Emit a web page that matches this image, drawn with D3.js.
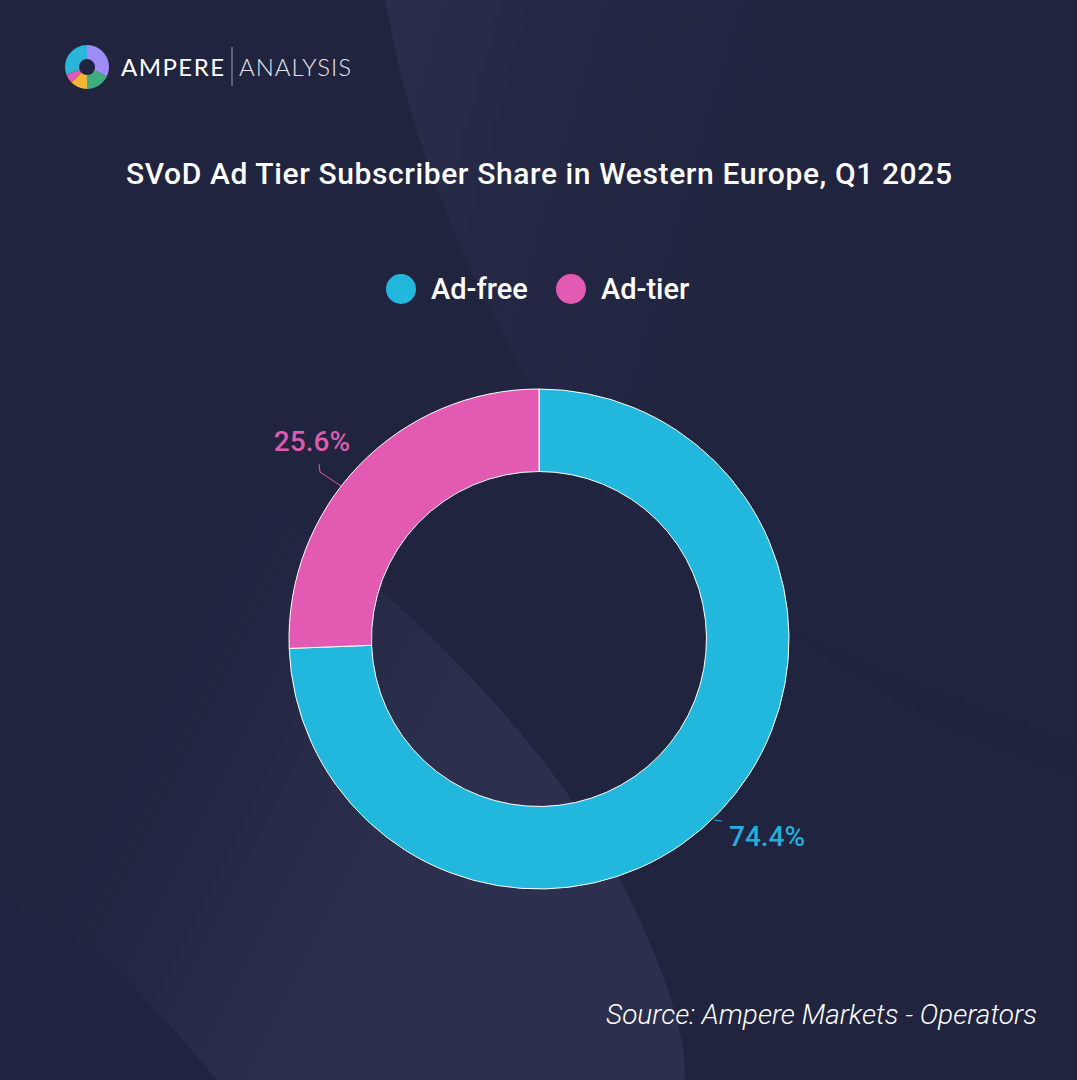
<!DOCTYPE html>
<html>
<head>
<meta charset="utf-8">
<script src="https://cdn.jsdelivr.net/npm/d3@7"></script>
<style>
  html, body { margin: 0; padding: 0; background: #1f2440; }
  svg { display: block; }
  text { font-family: Roboto, sans-serif; }
</style>
</head>
<body>
<div id="chart"></div>
<script>
// Chart values
const categories = ["Ad-free", "Ad-tier"];
const shares = [74.4, 25.6];
const shareLabels = ["74.4%", "25.6%"];
const colors = ["#22b8de", "#e35ab2"];
const labelColors = ["#23aedb", "#dd5cae"];

// Logo wheel, rough slice sizes
const logoSlices = [32, 18, 12.5, 7, 30.5];
const logoColors = ["#9d8cf5", "#3fae7f", "#f2b632", "#e35ab2", "#29b6d8"];

// Soft background curves (decoration only)
const topCurve = [[385, 0], [429, 167], [529, 383], [700, 570], [1077, 775]];
const bottomCurve = [[0, 440], [200, 482], [380, 590], [573, 802], [670, 997], [685, 1080]];
const cornerCurve = [[0, 899], [100, 955], [217, 1080]];
const streak = [[790, 632], [930, 690], [1077, 745], [1077, 778], [930, 720]];

const width = 1077;
const height = 1080;

const svg = d3.select("#chart")
    .append("svg")
    .attr("width", width)
    .attr("height", height);

const defs = svg.append("defs");

function addGradient(id, x1, y1, x2, y2, stops) {
    const g = defs.append("linearGradient")
        .attr("id", id)
        .attr("gradientUnits", "userSpaceOnUse")
        .attr("x1", x1).attr("y1", y1)
        .attr("x2", x2).attr("y2", y2);
    stops.forEach(s => {
        g.append("stop")
            .attr("offset", s[0])
            .attr("stop-color", s[1])
            .attr("stop-opacity", s[2]);
    });
}

addGradient("topFade", 385, 0, 800, 120, [[0, "#2c3150", 0.8], [0.45, "#2c3150", 0.28], [1, "#2c3150", 0]]);
addGradient("bottomFade", 80, 600, 440, 780, [[0, "#2c304e", 0], [0.4, "#2c304e", 0.12], [0.7, "#2c304e", 0.6], [1, "#2c304e", 1]]);
addGradient("cornerFade", 40, 900, 170, 1080, [[0, "#1f2340", 0.35], [1, "#1f2340", 0.95]]);

svg.append("rect")
    .attr("width", width)
    .attr("height", height)
    .attr("fill", "#20243f");

const curve = d3.line().curve(d3.curveNatural);

// Upper lighter sweep
svg.append("path")
    .attr("d", curve(topCurve) + `L${width},0Z`)
    .attr("fill", "url(#topFade)");

// Lower lighter sweep
svg.append("path")
    .attr("d", curve(bottomCurve) + `L0,${height}Z`)
    .attr("fill", "url(#bottomFade)");

// Dark corner bottom left
svg.append("path")
    .attr("d", curve(cornerCurve) + `L0,${height}Z`)
    .attr("fill", "url(#cornerFade)");

// Faint dark streak on the right
svg.append("path")
    .attr("d", d3.line()(streak) + "Z")
    .attr("fill", "#1d2139")
    .attr("opacity", 0.35);

// Logo
const logoPie = d3.pie().sort(null).value(d => d);
const logoArc = d3.arc().innerRadius(8).outerRadius(22);
const logo = svg.append("g").attr("transform", "translate(87,67)");
logo.selectAll("path")
    .data(logoPie(logoSlices))
    .enter()
    .append("path")
    .attr("d", logoArc)
    .attr("fill", (d, i) => logoColors[i]);

svg.append("text")
    .attr("x", 121)
    .attr("y", 75.5)
    .attr("font-size", 24)
    .style("font-family", "Lato, sans-serif")
    .attr("font-weight", 400)
    .attr("textLength", 103)
    .attr("fill", "#ffffff")
    .text("AMPERE");

svg.append("line")
    .attr("x1", 232).attr("x2", 232)
    .attr("y1", 47).attr("y2", 86)
    .attr("stroke", "#9a9dab")
    .attr("stroke-width", 1);

svg.append("text")
    .attr("x", 239)
    .attr("y", 75.5)
    .attr("font-size", 24)
    .style("font-family", "Lato, sans-serif")
    .attr("font-weight", 300)
    .attr("textLength", 112)
    .attr("fill", "#e4e5ea")
    .text("ANALYSIS");

// Title
svg.append("text")
    .attr("x", 539)
    .attr("y", 184)
    .attr("text-anchor", "middle")
    .attr("font-size", 30)
    .attr("font-weight", 500)
    .attr("textLength", 826)
    .attr("fill", "#ffffff")
    .text("SVoD Ad Tier Subscriber Share in Western Europe, Q1 2025");

// Legend
const legendX = d3.scaleOrdinal().domain(categories).range([401, 571]);
const legend = svg.selectAll(".legend")
    .data(categories)
    .enter()
    .append("g")
    .attr("class", "legend")
    .attr("transform", d => `translate(${legendX(d)},289)`);

legend.append("circle")
    .attr("r", 15)
    .attr("fill", (d, i) => colors[i]);

legend.append("text")
    .attr("x", 30)
    .attr("y", 10)
    .attr("font-size", 29)
    .attr("font-weight", 500)
    .attr("fill", "#ffffff")
    .text(d => d);

// Donut, clockwise from 12 o'clock
const cx = 539;
const cy = 639;
const pie = d3.pie().sort(null).value(d => d);
const arc = d3.arc().innerRadius(167.5).outerRadius(250);

const donut = svg.append("g").attr("transform", `translate(${cx},${cy})`);
donut.selectAll("path")
    .data(pie(shares))
    .enter()
    .append("path")
    .attr("d", arc)
    .attr("fill", (d, i) => colors[i])
    .attr("stroke", "#ffffff")
    .attr("stroke-width", 1);

// Value labels and their small leader lines
const labelPos = [[729, 846, "start"], [350, 451, "end"]];
const leaders = [[[714, 820], [722, 821]], [[341, 486], [320, 472], [319, 464]]];

shareLabels.forEach((label, i) => {
    svg.append("path")
        .attr("d", d3.line()(leaders[i]))
        .attr("fill", "none")
        .attr("stroke", labelColors[i])
        .attr("stroke-width", 1);

    svg.append("text")
        .attr("x", labelPos[i][0])
        .attr("y", labelPos[i][1])
        .attr("text-anchor", labelPos[i][2])
        .attr("font-size", 28)
        .attr("font-weight", 500)
        .attr("fill", labelColors[i])
        .text(label);
});

// Source
svg.append("text")
    .attr("x", 1037)
    .attr("y", 1024)
    .attr("text-anchor", "end")
    .attr("font-size", 28)
    .attr("font-weight", 300)
    .attr("font-style", "italic")
    .attr("fill", "#ffffff")
    .text("Source: Ampere Markets - Operators");
</script>
</body>
</html>
